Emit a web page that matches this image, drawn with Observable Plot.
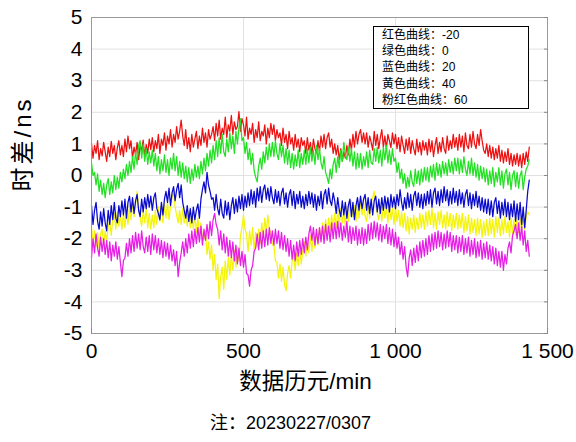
<!DOCTYPE html>
<html>
<head>
<meta charset="utf-8">
<script src="https://cdn.jsdelivr.net/npm/d3@7"></script>
<script src="https://cdn.jsdelivr.net/npm/@observablehq/plot@0.6"></script>
<style>
  body { margin: 0; background: #fff; }
  #wrap { position: relative; width: 576px; height: 442px; font-family: "Liberation Sans", Arial, "Noto Sans CJK SC", sans-serif; }
  #legend { position: absolute; left: 373px; top: 26px; width: 156px; height: 83px; box-sizing: border-box;
    border: 1px solid #000; background: #fff; font-size: 12px; line-height: 16.2px; padding: 0 0 0 8px; color: #000;
    font-family: "Liberation Sans", Arial, "Noto Sans CJK SC", sans-serif; }
</style>
</head>
<body>
<div id="wrap"><div id="chart"></div><div id="legend"></div></div>
<script>
// sampling step of the values below (minutes)
const stepMin = 5;

// 红色曲线 (offset -20)
const redVals = [
1.0,0.55,0.95,0.7,1.1,0.5,0.85,0.62,1.05,0.75,0.45,0.9,0.6,1.08,0.7,0.95,0.5,0.88,1.1,0.65,
0.95,0.6,1.15,0.75,1.25,0.85,1.1,0.55,0.9,0.65,1.05,0.5,0.95,0.8,1.12,0.6,0.98,0.7,1.15,0.82,
1.2,0.75,1.1,0.85,1.3,0.7,1.15,0.95,1.35,0.8,1.25,1.0,1.45,0.9,1.3,1.05,1.55,1.15,1.4,1.75,
1.25,0.95,1.45,0.85,1.2,0.75,1.3,0.9,1.15,1.4,0.85,1.25,0.95,1.5,1.05,1.35,0.9,1.45,1.15,1.3,
1.55,1.1,1.65,1.25,1.75,1.15,1.5,1.3,1.85,1.2,1.6,1.4,1.9,1.3,1.7,1.45,1.55,2.02,1.4,1.8,
1.6,1.25,1.85,1.15,1.5,1.3,1.65,1.05,1.45,1.2,1.7,1.1,1.4,1.25,1.6,1.0,1.5,1.2,1.65,1.3,
1.6,1.1,1.45,1.2,1.35,0.95,1.5,1.05,1.3,0.85,1.4,1.0,1.2,0.8,1.3,0.9,1.15,0.75,1.2,0.95,
1.1,0.7,1.2,0.8,1.05,0.65,1.15,0.85,0.7,1.1,0.75,1.25,0.9,1.3,0.85,1.2,1.35,0.9,1.15,0.7,
1.0,0.65,0.95,0.5,0.85,0.45,0.75,0.55,0.95,0.65,1.15,0.8,1.3,0.9,1.4,1.0,1.3,1.45,1.05,1.35,
1.0,1.35,0.9,1.25,1.05,0.8,1.4,0.95,1.3,0.85,1.2,1.45,0.9,1.25,0.85,1.3,1.1,0.88,1.35,1.0,
1.3,0.85,1.2,0.75,1.25,0.95,0.7,1.15,0.8,1.2,0.7,1.1,0.85,0.65,1.15,0.75,1.05,0.65,1.1,0.8,
1.05,0.65,1.15,0.75,1.1,0.6,0.95,1.2,0.7,1.05,0.75,1.2,0.85,0.7,1.25,0.8,1.1,0.85,1.3,0.9,
1.2,0.8,1.3,0.9,1.25,0.75,1.35,0.95,0.85,1.3,0.9,1.4,1.0,0.85,1.3,0.95,1.45,1.1,0.8,0.7,
1.0,0.6,0.95,0.55,0.9,0.5,0.85,0.55,0.95,0.45,0.8,0.4,0.75,0.45,0.85,0.35,0.7,0.3,0.65,0.35,
0.7,0.3,0.65,0.25,0.7,0.35,0.75,0.45,0.9];

// 绿色曲线 (offset 0)
const greenVals = [
0.4,0.0,0.1,-0.3,0.05,-0.5,-0.15,-0.6,-0.25,-0.7,-0.3,-0.1,-0.6,-0.2,-0.55,0.0,-0.45,-0.05,-0.4,0.1,
-0.2,0.2,-0.1,0.35,0.0,0.45,0.1,0.6,0.2,0.75,0.35,0.95,1.1,0.55,1.0,0.45,0.85,0.35,0.75,0.4,
0.8,0.3,0.7,0.15,0.6,0.05,0.5,0.15,0.65,0.1,0.5,0.0,0.55,0.2,0.7,0.15,0.6,0.0,0.45,-0.05,
0.4,-0.1,0.3,-0.2,0.25,-0.25,0.2,-0.15,0.35,-0.05,0.3,-0.1,0.45,0.05,0.55,0.15,0.7,0.3,0.8,0.4,
0.95,0.5,1.1,0.6,1.2,0.7,1.3,0.75,0.6,1.15,0.75,1.35,0.85,1.25,0.7,1.4,1.0,1.5,1.8,1.1,
1.2,0.7,1.05,0.5,0.85,0.35,0.7,0.15,-0.05,-0.2,0.3,0.55,0.2,0.75,0.4,0.9,0.5,1.0,0.6,1.05,
0.6,1.1,0.7,0.5,1.0,0.6,0.95,0.4,0.85,0.35,0.8,0.25,0.7,0.2,0.65,0.3,0.8,0.25,0.7,0.35,
0.8,0.35,0.85,0.4,0.9,0.45,0.8,0.35,0.95,0.5,0.85,0.4,0.2,0.6,0.1,-0.05,-0.25,0.2,-0.1,0.35,
0.55,0.1,0.6,0.25,0.8,0.45,1.05,0.65,0.5,0.9,0.45,0.85,0.3,0.75,0.2,0.7,0.25,0.7,0.2,0.6,
0.3,0.75,0.25,0.8,0.4,0.35,0.85,0.45,0.9,0.4,0.8,0.3,0.9,0.5,0.95,0.4,0.8,0.35,0.85,0.45,
0.55,0.1,0.4,-0.1,0.2,-0.25,0.05,-0.4,-0.05,-0.35,0.15,-0.2,-0.35,0.2,-0.25,0.15,-0.3,0.2,-0.2,0.25,
-0.15,0.25,-0.2,0.3,-0.05,0.35,-0.15,0.4,0.0,0.35,-0.05,0.45,0.05,0.4,0.0,0.5,0.1,0.45,0.05,0.55,
0.15,0.55,0.05,0.5,0.1,0.6,0.2,0.0,0.45,0.05,0.55,0.0,0.4,-0.05,0.35,-0.15,0.3,-0.1,0.25,-0.2,
0.2,-0.3,0.15,-0.25,0.25,-0.35,0.1,-0.2,0.25,-0.3,0.15,-0.4,0.05,0.2,-0.3,0.1,-0.45,0.0,0.15,-0.35,
0.1,-0.4,0.0,0.15,-0.45,-0.05,0.2,0.3,0.5];

// 蓝色曲线 (offset 20)
const blueVals = [
-0.95,-1.55,-1.1,-0.85,-1.45,-1.7,-1.15,-1.6,-1.05,-1.5,-1.75,-1.1,-1.55,-0.95,-1.4,-0.85,-1.35,-1.5,-0.95,-1.3,
-0.8,-1.25,-0.75,-1.35,-0.85,-0.65,-1.15,-0.7,-1.2,-0.8,-0.6,-1.1,-1.3,-0.75,-1.15,-0.7,-1.05,-0.6,-1.0,-0.65,
-1.1,-0.7,-0.55,-1.05,-1.2,-1.4,-0.85,-1.25,-0.75,-0.5,-0.85,-0.4,-0.95,-0.55,-0.35,-0.8,-0.45,-0.25,-0.7,-0.3,
-0.85,-1.1,-1.35,-0.95,-1.45,-1.05,-1.5,-1.0,-1.4,-1.1,-0.9,-1.35,-0.75,-0.45,-0.2,-0.55,0.1,-0.3,-0.5,-0.75,
-0.7,-1.1,-0.6,-1.05,-1.25,-0.75,-1.2,-1.35,-0.8,-1.25,-0.85,-1.4,-0.95,-0.7,-1.2,-0.75,-1.15,-0.65,-1.05,-0.6,
-1.1,-0.65,-1.0,-0.55,-0.95,-0.45,-0.9,-0.5,-1.0,-0.4,-0.8,-0.35,-0.85,-0.45,-0.3,-0.75,-0.4,-0.8,-0.35,-0.7,
-0.9,-0.45,-0.85,-0.5,-0.95,-0.55,-0.4,-0.9,-0.55,-1.0,-0.6,-0.45,-0.95,-0.5,-1.05,-0.6,-0.9,-0.5,-1.0,-0.65,
-1.05,-0.6,-0.95,-0.5,-0.9,-0.55,-1.0,-0.6,-1.1,-0.65,-0.95,-0.5,-1.05,-0.6,-0.45,-0.9,-0.4,-0.8,-0.95,-0.55,
-0.8,-1.2,-0.7,-1.1,-1.3,-0.8,-1.25,-0.85,-1.35,-0.95,-0.75,-1.3,-0.85,-1.4,-0.95,-0.7,-1.1,-0.65,-1.05,-0.75,
-0.6,-1.1,-0.7,-1.2,-0.75,-1.25,-0.8,-0.65,-1.15,-0.75,-1.2,-0.7,-1.1,-0.65,-1.05,-0.7,-1.15,-0.6,-1.0,-0.68,
-1.05,-0.6,-0.95,-0.45,-0.85,-1.1,-0.7,-1.05,-0.55,-1.0,-0.6,-1.1,-0.65,-0.5,-0.95,-0.55,-1.0,-0.6,-1.05,-0.58,
-0.95,-0.5,-0.9,-0.45,-1.0,-0.55,-0.4,-0.9,-0.5,-0.95,-0.45,-0.85,-0.35,-0.8,-0.45,-0.95,-0.5,-0.9,-0.4,-0.85,
-0.5,-0.95,-0.45,-0.9,-0.55,-1.0,-0.6,-0.45,-0.95,-0.55,-1.05,-0.6,-0.95,-0.5,-1.0,-0.65,-1.1,-0.7,-1.15,-0.75,
-1.2,-0.75,-1.25,-0.8,-1.3,-0.85,-0.7,-1.2,-0.8,-1.35,-0.85,-1.25,-0.75,-1.3,-0.85,-1.4,-0.9,-1.3,-0.8,-1.45,
-0.9,-1.4,-0.85,-1.55,-1.0,-1.65,-1.1,-0.5,-0.15];

// 黄色曲线 (offset 40)
const yellowVals = [
-1.65,-2.15,-1.75,-2.25,-1.8,-2.3,-1.85,-1.7,-2.2,-1.75,-2.1,-1.6,-1.45,-1.9,-1.35,-1.2,-1.7,-1.15,-1.6,-1.25,
-1.7,-1.2,-1.65,-1.1,-1.55,-0.95,-1.4,-0.85,-1.3,-0.9,-0.5,-1.0,-1.35,-1.6,-1.1,-1.5,-1.05,-1.65,-1.2,-1.7,
-1.25,-1.65,-1.1,-1.55,-1.0,-1.45,-0.95,-1.5,-0.9,-1.35,-0.85,-1.4,-0.95,-0.7,-0.5,-1.0,-1.25,-1.5,-1.1,-1.55,
-1.05,-1.5,-1.1,-1.6,-1.15,-1.65,-1.2,-1.7,-1.25,-1.8,-1.35,-1.9,-1.5,-2.05,-2.0,-1.75,-2.5,-2.1,-2.65,-2.2,
-3.0,-2.5,-3.3,-2.8,-3.9,-3.2,-2.9,-3.6,-2.7,-3.3,-2.6,-3.15,-2.5,-3.0,-2.35,-2.9,-2.25,-2.7,-1.9,-1.65,
-1.25,-1.7,-1.85,-2.4,-1.75,-2.2,-1.65,-2.35,-1.8,-2.25,-1.7,-2.15,-1.5,-1.95,-1.35,-1.8,-1.25,-1.7,-1.8,-2.2,
-2.2,-2.7,-2.75,-3.25,-2.8,-3.35,-2.9,-3.45,-3.65,-3.1,-2.85,-3.25,-2.7,-2.5,-3.0,-2.45,-2.85,-2.35,-2.8,-2.4,
-2.1,-2.55,-2.05,-2.45,-1.9,-2.4,-1.85,-2.3,-1.75,-2.2,-1.65,-2.05,-1.5,-1.95,-1.4,-1.85,-1.35,-1.75,-1.25,-1.7,
-1.2,-1.65,-1.1,-1.55,-1.05,-1.5,-1.15,-1.6,-1.0,-1.45,-0.9,-0.8,-1.3,-0.95,-1.45,-0.9,-1.35,-0.8,-1.25,-0.85,
-1.3,-1.45,-0.95,-1.35,-0.85,-0.7,-0.5,-1.0,-1.2,-1.4,-0.95,-1.45,-0.9,-1.35,-1.0,-1.5,-0.95,-1.4,-1.05,-1.55,
-1.0,-1.45,-1.1,-1.6,-1.15,-1.65,-1.2,-1.75,-1.3,-1.85,-1.35,-1.7,-1.25,-1.8,-1.35,-1.7,-1.2,-1.65,-1.25,-1.7,
-1.15,-1.6,-1.1,-1.55,-1.05,-1.65,-1.2,-1.7,-1.15,-1.55,-1.1,-1.65,-1.25,-1.7,-1.15,-1.6,-1.2,-1.75,-1.25,-1.65,
-1.2,-1.7,-1.25,-1.65,-1.2,-1.8,-1.3,-1.75,-1.25,-1.85,-1.35,-1.8,-1.4,-1.9,-1.35,-1.85,-1.4,-1.95,-1.45,-1.9,
-1.4,-1.9,-1.35,-1.85,-1.4,-1.95,-1.3,-1.8,-1.35,-1.9,-1.4,-1.85,-1.3,-1.8,-1.45,-1.95,-1.35,-1.85,-1.4,-1.9,
-1.3,-1.8,-1.35,-1.75,-1.25,-1.7,-1.3,-1.15,-1.25];

// 粉红色曲线 (offset 60)
const pinkVals = [
-2.6,-2.0,-2.45,-1.85,-2.3,-2.55,-1.95,-2.4,-2.0,-2.5,-2.05,-2.6,-2.1,-2.7,-2.2,-2.55,-2.1,-2.65,-2.25,-2.75,
-3.2,-2.7,-2.6,-2.15,-2.55,-2.0,-2.45,-1.9,-2.4,-1.8,-2.3,-1.85,-2.35,-1.75,-2.25,-2.45,-1.95,-2.4,-1.9,-2.5,
-1.85,-2.35,-1.9,-2.45,-2.0,-2.5,-2.05,-2.6,-2.1,-2.55,-2.15,-2.65,-2.2,-2.7,-2.35,-2.85,-2.4,-3.2,-2.75,-2.45,
-2.1,-2.55,-2.0,-2.45,-1.85,-2.3,-1.75,-2.25,-1.7,-2.15,-1.65,-2.1,-1.6,-2.2,-1.7,-2.05,-1.55,-2.0,-1.45,-1.9,
-1.4,-1.2,-1.55,-1.7,-2.2,-1.75,-2.35,-1.85,-2.45,-1.95,-2.55,-2.05,-2.6,-2.1,-2.7,-2.2,-2.8,-2.3,-2.85,-2.4,
-2.9,-2.5,-3.1,-3.15,-3.5,-3.0,-2.85,-2.4,-2.3,-1.85,-2.35,-1.8,-2.3,-1.75,-2.25,-1.7,-2.2,-1.65,-2.15,-1.75,
-2.2,-1.7,-2.15,-1.75,-2.3,-1.8,-2.35,-1.9,-2.4,-2.0,-2.55,-2.05,-2.65,-2.2,-2.7,-2.1,-2.55,-2.05,-2.5,-2.0,
-2.45,-1.95,-2.35,-1.85,-1.6,-2.05,-1.65,-2.2,-1.7,-2.15,-1.65,-2.1,-1.6,-2.15,-1.55,-2.05,-1.6,-2.1,-1.5,-2.0,
-1.5,-2.0,-1.45,-1.95,-1.5,-2.05,-1.6,-1.95,-1.45,-2.1,-1.6,-2.15,-1.65,-2.05,-1.6,-2.2,-1.7,-2.15,-1.65,-2.2,
-1.7,-2.15,-1.55,-2.05,-1.5,-2.0,-1.45,-1.95,-1.5,-2.05,-1.55,-2.1,-1.6,-2.0,-1.55,-2.15,-1.65,-2.2,-1.7,-2.25,
-1.8,-2.3,-1.95,-2.5,-2.1,-2.65,-2.25,-2.9,-3.2,-2.6,-2.35,-2.85,-2.3,-2.75,-2.2,-2.7,-2.1,-2.6,-2.05,-2.55,
-2.0,-2.5,-1.9,-2.4,-1.85,-2.35,-1.8,-2.3,-1.75,-2.25,-1.8,-2.35,-1.85,-2.3,-1.75,-2.25,-1.8,-2.4,-1.9,-2.35,
-1.9,-2.45,-1.95,-2.4,-1.9,-2.5,-2.0,-2.45,-1.95,-2.55,-2.05,-2.5,-2.0,-2.6,-2.1,-2.55,-2.05,-2.65,-2.15,-2.6,
-2.1,-2.65,-2.2,-2.7,-2.25,-2.8,-2.3,-2.85,-2.4,-2.9,-2.4,-3.0,-2.5,-2.8,-2.3,-2.1,-2.45,-1.9,-1.75,-1.55,
-2.0,-1.5,-2.05,-1.6,-2.2,-1.75,-2.4,-2.05,-2.55];

const xTicks = [0, 500, 1000, 1500];
const xTickLabels = ["0", "500", "1 000", "1 500"];
const yTicks = [-5, -4, -3, -2, -1, 0, 1, 2, 3, 4, 5];
const legendLabels = ["红色曲线：-20", "绿色曲线：0", "蓝色曲线：20", "黄色曲线：40", "粉红色曲线：60"];
const xLabel = "数据历元/min";
const yLabel = "时差/ns";
const note = "注：20230227/0307";

const toRows = vals => vals.map((v, i) => ({x: i * stepMin, y: v}));
const lineStyle = {x: "x", y: "y", strokeWidth: 1.25};

const chart = Plot.plot({
  width: 576,
  height: 442,
  marginLeft: 91,
  marginRight: 29,
  marginTop: 17,
  marginBottom: 109,
  style: {fontFamily: '"Liberation Sans", Arial, "Noto Sans CJK SC", sans-serif', background: "#fff", color: "#000"},
  x: {domain: [0, 1500]},
  y: {domain: [-5, 5]},
  marks: [
    Plot.gridY(yTicks, {stroke: "#e2e2e2", strokeOpacity: 1}),
    Plot.gridX(xTicks, {stroke: "#e2e2e2", strokeOpacity: 1}),
    Plot.line(toRows(redVals), {...lineStyle, stroke: "#ee1111"}),
    Plot.line(toRows(greenVals), {...lineStyle, stroke: "#22e022"}),
    Plot.line(toRows(yellowVals), {...lineStyle, stroke: "#f4f40a"}),
    Plot.line(toRows(pinkVals), {...lineStyle, stroke: "#e61ee6"}),
    Plot.line(toRows(blueVals), {...lineStyle, stroke: "#0a0acc"}),
    Plot.frame({stroke: "#9a9a9a"}),
    Plot.axisY({anchor: "right", ticks: yTicks, tickSize: -4, tickFormat: () => "", label: null, stroke: "#888"}),
    Plot.axisX({anchor: "bottom", ticks: xTicks, tickSize: -5, tickFormat: () => "", label: null, stroke: "#888"}),
    Plot.axisY({anchor: "left", ticks: yTicks, tickSize: 0, tickPadding: 9, fontSize: 21, label: null,
      tickFormat: d => String(d)}),
    Plot.axisX({anchor: "bottom", ticks: xTicks, tickSize: 0, tickPadding: 10, fontSize: 21, label: null,
      tickFormat: d => xTickLabels[xTicks.indexOf(d)]}),
    Plot.text([yLabel], {frameAnchor: "left", text: d => d, rotate: -90, dx: -68, dy: 16, fontSize: 24}),
    Plot.text([xLabel], {frameAnchor: "bottom", text: d => d, dx: -14, dy: 55, fontSize: 22.5}),
    Plot.text([note], {frameAnchor: "bottom", text: d => d, dx: -29, dy: 95, fontSize: 18})
  ]
});
d3.select(chart).selectAll("text")
  .filter(function() { return this.textContent === yLabel; })
  .attr("letter-spacing", "3px");
document.getElementById("chart").appendChild(chart);

const legend = document.getElementById("legend");
legendLabels.forEach(t => {
  const div = document.createElement("div");
  div.textContent = t;
  legend.appendChild(div);
});
</script>
</body>
</html>
